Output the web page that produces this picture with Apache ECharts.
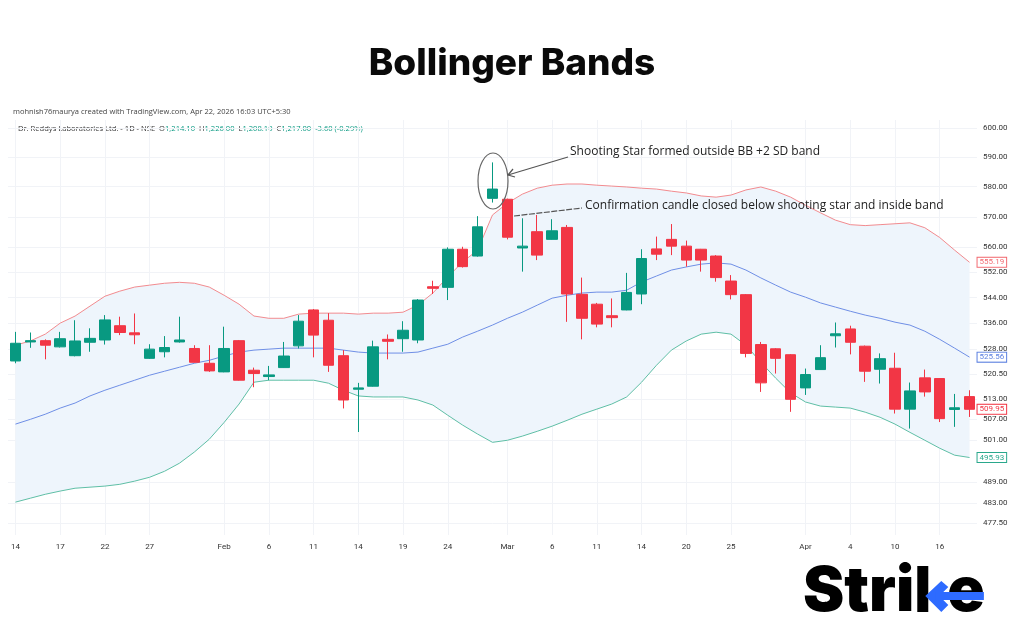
<!DOCTYPE html>
<html><head><meta charset="utf-8">
<script src="https://cdn.jsdelivr.net/npm/echarts@6/dist/echarts.min.js"></script>
<style>html,body{margin:0;padding:0;background:#fff}#c{width:1024px;height:640px}</style>
</head><body><div id="c"></div>
<script>
const categories = ['Jan 14','Jan 15','Jan 16','Jan 17','Jan 20','Jan 21','Jan 22','Jan 23','Jan 24','Jan 27','Jan 28','Jan 29','Jan 30','Jan 31',
 'Feb 3','Feb 4','Feb 5','Feb 6','Feb 7','Feb 10','Feb 11','Feb 12','Feb 13','Feb 14','Feb 17','Feb 18','Feb 19','Feb 20','Feb 21','Feb 24','Feb 25','Feb 27','Feb 28',
 'Mar 3','Mar 4','Mar 5','Mar 6','Mar 7','Mar 10','Mar 11','Mar 12','Mar 13','Mar 14','Mar 17','Mar 18','Mar 20','Mar 21','Mar 24','Mar 25','Mar 26','Mar 27','Mar 28','Mar 31',
 'Apr 1','Apr 2','Apr 3','Apr 4','Apr 7','Apr 8','Apr 10','Apr 11','Apr 15','Apr 16','Apr 17','Apr 21'];
const tickIndices = [0,3,6,9,14,17,20,23,26,29,33,36,39,42,45,48,53,56,59,62];
const tickLabels = ['14','17','22','27','Feb','6','11','14','19','24','Mar','6','11','14','20','25','Apr','4','10','16'];
const yTicks = [600,590,580,570,560,552,544,536,528,520.5,513,507,501,489,483,477.5];

const opens = [524.4,530.2,530.6,528.7,526.0,530.1,530.8,535.2,533.0,525.2,527.2,530.2,528.2,523.7,521.1,530.6,521.6,519.7,522.4,529.0,
 540.1,536.9,526.0,515.9,516.8,531.0,531.2,530.8,547.4,547.2,559.4,557.2,576.1,575.8,559.8,565.1,562.6,566.5,545.0,541.9,
 538.3,540.1,545.1,559.5,562.6,560.4,559.4,557.2,549.2,544.9,529.4,528.1,526.3,516.3,521.8,532.1,534.2,528.9,521.9,522.2,
 510.0,519.3,519.1,509.9,513.7];
const closes = [529.8,530.6,529.2,531.2,530.5,531.3,537.0,533.1,532.4,528.0,528.5,530.8,524.0,521.4,528.2,518.6,520.6,520.2,525.9,536.6,
 532.3,523.1,512.7,516.3,528.7,530.4,533.8,543.2,546.9,559.4,553.8,566.7,579.2,563.3,560.4,557.5,565.4,545.1,537.5,535.7,
 537.7,545.6,556.4,557.8,560.4,555.9,555.9,550.3,544.9,526.7,517.8,525.2,512.9,520.3,525.4,532.7,530.1,521.3,525.1,510.0,
 515.4,515.1,507.2,510.4,509.95];
const highs = [533.3,533.1,531.0,533.3,536.9,534.4,538.5,538.0,539.0,529.5,532.0,538.0,529.2,529.2,534.9,530.8,522.4,522.9,530.2,538.5,
 540.4,539.1,527.7,517.8,530.6,532.5,536.6,543.5,549.3,560.0,560.2,570.2,588.2,576.0,569.5,570.6,569.2,567.3,550.3,542.3,
 543.7,551.8,559.4,563.5,567.6,562.2,559.5,557.5,551.1,545.1,530.2,528.3,526.5,522.1,529.2,536.2,535.2,529.1,526.7,526.9,
 517.9,521.8,519.2,514.5,515.6];
const lows = [523.7,528.4,524.9,528.5,525.8,527.2,529.4,532.3,529.5,525.0,525.5,530.0,523.9,521.1,521.0,518.5,516.5,518.6,522.3,528.2,
 525.5,521.1,510.2,503.3,516.7,524.9,527.2,529.8,545.1,543.2,553.5,557.0,574.7,562.6,552.2,555.9,562.5,536.4,531.0,534.7,
 534.7,540.0,541.9,555.9,557.5,553.8,552.2,549.0,543.4,525.5,515.1,520.6,509.2,514.2,521.7,528.5,526.4,518.1,517.6,508.7,
 504.3,513.7,506.2,504.8,507.7];

const upperBand = [529.2,530.5,532.6,536.0,538.2,541.3,544.4,546.0,547.3,547.9,548.5,548.8,548.5,547.3,544.7,541.9,538.2,537.5,537.5,538.8,
 539.1,539.1,539.1,538.8,539.1,539.1,539.4,541.6,545.4,550.5,555.3,559.1,570.6,574.5,577.5,579.5,580.5,580.9,580.9,580.5,
 580.2,579.9,579.5,579.2,578.5,577.9,576.9,576.5,577.2,578.9,579.9,578.5,576.5,573.8,571.3,568.9,567.4,567.1,567.4,567.7,
 568.0,566.4,563.2,559.1,555.19];
const middleBand = [505.6,507.0,508.5,510.3,511.8,513.9,515.6,517.1,518.6,520.1,521.3,522.5,523.7,524.6,525.9,527.1,527.7,528.0,528.3,528.3,
 528.3,528.3,527.7,527.1,526.8,526.8,526.8,527.1,528.3,529.5,531.7,533.5,535.4,537.5,539.4,541.6,543.8,544.7,545.4,545.7,
 545.7,546.3,548.9,550.8,552.7,553.7,554.6,555.0,554.6,552.7,550.2,547.9,545.7,544.1,542.3,541.0,539.7,538.5,537.5,536.3,
 535.4,533.5,531.0,528.3,525.56];
const lowerBand = [483.3,484.4,485.5,486.4,487.2,487.5,487.8,488.3,489.2,490.3,492.0,494.3,497.5,501.2,506.1,511.5,518.0,518.6,518.6,518.6,
 518.6,517.7,515.6,513.9,513.6,513.6,513.6,512.7,511.2,508.2,505.3,502.7,500.3,500.9,502.1,503.5,505.0,506.7,508.5,510.0,
 511.5,513.6,518.0,523.1,527.7,530.5,532.6,533.2,532.6,529.2,524.0,519.2,514.8,512.1,510.9,510.6,510.3,509.1,507.6,505.6,
 503.2,500.9,498.6,496.6,495.93];

const UP = '#089981', DOWN = '#f23645', BLUE = '#2e6bff';
const candleData = opens.map((o, i) => [o, closes[i], lows[i], highs[i]]);
const bandWidth = upperBand.map((u, i) => +(u - lowerBand[i]).toFixed(2));
const last = closes.length - 1;

function tag(color) {
  return {show: true, formatter: p => (Array.isArray(p.value) ? p.value[1] : p.value).toFixed(2),
    color: color, fontSize: 8, fontFamily: 'Roboto', backgroundColor: '#fff', borderColor: color,
    borderWidth: 1, padding: [1, 2, 0, 2], distance: 8};
}

// logo layout (measured text widths)
const LOGO_FONT = '900 62px Inter';
const mctx = document.createElement('canvas').getContext('2d');
mctx.font = LOGO_FONT;
const logoX = 803, logoTop = 561;
const striW = mctx.measureText('Stri').width;
const stemX = logoX + striW + 3;
const eW = mctx.measureText('e').width;
const chevX = stemX + 12;
const eX = chevX + 18;

const chart = echarts.init(document.getElementById('c'), null, {renderer: 'canvas'});
chart.setOption({
  animation: false,
  backgroundColor: '#fff',
  grid: {left: 8, right: 47, top: 120, bottom: 105},
  xAxis: {
    type: 'category', data: categories, boundaryGap: true,
    axisLine: {show: false}, axisTick: {show: false},
    axisLabel: {interval: (i) => tickIndices.includes(i), formatter: (v, i) => tickLabels[tickIndices.indexOf(i)] || '',
      fontSize: 8, color: '#333', margin: 8, fontFamily: 'Roboto'},
    splitLine: {show: true, alignWithLabel: true, interval: (i) => tickIndices.includes(i), lineStyle: {color: '#f1f3f7', width: 1}}
  },
  yAxis: {
    type: 'log', logBase: 10, position: 'right', min: 474.2, max: 602.8, scale: true,
    axisLine: {show: false},
    axisTick: {show: false, customValues: yTicks},
    axisLabel: {customValues: yTicks, formatter: v => v.toFixed(2), fontSize: 8, color: '#333', margin: 6, fontFamily: 'Roboto'},
    splitLine: {show: true, lineStyle: {color: '#f1f3f7', width: 1}}
  },
  series: [
    {name: 'Lower', type: 'line', data: lowerBand, stack: 'bb', symbol: 'none', z: 2,
      lineStyle: {color: '#5fbfa6', width: 1}, endLabel: tag('#2aa88c')},
    {name: 'Fill', type: 'line', data: bandWidth, stack: 'bb', symbol: 'none', z: 1, silent: true,
      lineStyle: {width: 0, opacity: 0}, areaStyle: {color: '#eef5fc', opacity: 1}},
    {name: 'Upper', type: 'line', data: upperBand, symbol: 'none', z: 2,
      lineStyle: {color: '#f28b8f', width: 1}, endLabel: tag('#f26b72')},
    {name: 'Basis', type: 'line', data: middleBand, symbol: 'none', z: 2,
      lineStyle: {color: '#6f8fe6', width: 1}, endLabel: tag('#5a7fe0')},
    {name: 'Price', type: 'candlestick', data: candleData, barWidth: 11, z: 3,
      itemStyle: {color: UP, color0: DOWN, borderColor: UP, borderColor0: DOWN, borderWidth: 1},
      markPoint: {symbol: 'rect', symbolSize: 0, silent: true,
        data: [{coord: [last, closes[last]], value: closes[last]}],
        label: Object.assign(tag(DOWN), {position: 'right', distance: 8})}}
  ],
  graphic: [
    {type: 'text', left: 'center', top: 45, style: {text: 'Bollinger Bands', font: '800 37px Inter', fill: '#0a0a0a'}},
    {type: 'text', left: 13, top: 108, style: {text: 'mohnish76maurya created with TradingView.com, Apr 22, 2026 16:03 UTC+5:30', font: '7.5px "Open Sans"', fill: '#444'}},
    {type: 'text', left: 18, top: 125, style: {
      text: 'Dr. Reddys Laboratories Ltd. - 1D - NSE  O{g|1,214.10}  H{g|1,226.00}  L{g|1,208.10}  C{g|1,217.00}  {g|-3.60 (-0.29%)}',
      font: '7.6px "Open Sans"', fill: '#333', rich: {g: {fill: UP, font: '7.6px "Open Sans"'}}}},
    {type: 'ellipse', shape: {cx: 493, cy: 181, rx: 15, ry: 28}, style: {fill: 'none', stroke: '#666', lineWidth: 1.2}, z: 10},
    {type: 'polyline', shape: {points: [[568, 157], [508, 175]]}, style: {stroke: '#555', lineWidth: 1.2}, z: 10},
    {type: 'polyline', shape: {points: [[513, 169], [508, 175], [515, 177]]}, style: {stroke: '#555', lineWidth: 1.2, fill: 'none'}, z: 10},
    {type: 'text', left: 570, top: 146, style: {text: 'Shooting Star formed outside BB +2 SD band', font: '12px "Open Sans"', fill: '#222'}, z: 10},
    {type: 'polyline', shape: {points: [[514, 216], [582, 208]]}, style: {stroke: '#555', lineWidth: 1.2, lineDash: [6, 1.5]}, z: 10},
    {type: 'text', left: 585, top: 200, style: {text: 'Confirmation candle closed below shooting star and inside band', font: '12px "Open Sans"', fill: '#222'}, z: 10},
    {type: 'text', left: logoX, top: logoTop, style: {text: 'Stri', font: LOGO_FONT, fill: '#000'}, z: 10},
    {type: 'rect', shape: {x: stemX, y: 566, width: 11, height: 46}, style: {fill: '#000'}, z: 10},
    {type: 'polygon', shape: {points: [[chevX + 12, 581], [chevX + 19, 587], [chevX + 10, 596], [chevX + 19, 605], [chevX + 12, 612], [chevX - 4, 596]]}, style: {fill: BLUE}, z: 11},
    {type: 'text', left: eX, top: logoTop, style: {text: 'e', font: LOGO_FONT, fill: '#000'}, z: 10},
    {type: 'rect', shape: {x: chevX + 6, y: 592, width: eX + eW - chevX - 7, height: 8}, style: {fill: BLUE}, z: 11}
  ]
});
</script></body></html>
